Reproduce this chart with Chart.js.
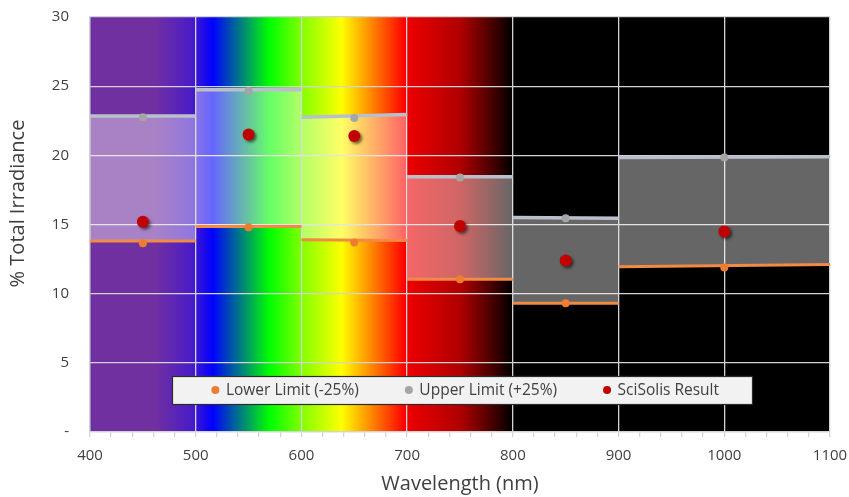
<!DOCTYPE html>
<html><head><meta charset="utf-8">
<script src="https://cdn.jsdelivr.net/npm/chart.js@4.4.1/dist/chart.umd.min.js"></script>
<style>html,body{margin:0;padding:0;background:#fff;}</style>
</head><body>
<canvas id="c" width="849" height="497"></canvas>
<script>
// ---- data ----
const binStart = [400, 500, 600, 700, 800, 900];
const binEnd = [500, 600, 700, 800, 900, 1100];
const binCenter = [450, 550, 650, 750, 850, 1000];
const lowerLimit = [13.65, 14.8, 13.7, 11.05, 9.3, 11.9];
const upperLimit = [22.75, 24.65, 22.7, 18.4, 15.45, 19.85];
const sciSolisResult = [15.2, 21.5, 21.4, 14.9, 12.4, 14.5];
const upperLineStart = [22.85, 24.75, 22.75, 18.45, 15.5, 19.85];
const upperLineEnd = [22.85, 24.75, 22.95, 18.45, 15.45, 19.9];
const lowerLineStart = [13.8, 14.85, 13.9, 11.05, 9.3, 11.95];
const lowerLineEnd = [13.8, 14.85, 13.85, 11.05, 9.3, 12.1];
const xMajorTicks = [400, 500, 600, 700, 800, 900, 1000, 1100];
const yTickValues = [0, 5, 10, 15, 20, 25, 30];
const yTickLabels = ['-', '5', '10', '15', '20', '25', '30'];
const seriesLabels = ['Lower Limit (-25%)', 'Upper Limit (+25%)', 'SciSolis Result'];
const xTitle = 'Wavelength (nm)';
const yTitle = '% Total Irradiance';

// ---- styles ----
const spectrumStops = [
  [400, '#7030A0'], [462, '#7030A0'], [496, '#4A1CC8'], [516, '#0000FF'],
  [570, '#00FF00'], [600, '#80FF00'], [638, '#FFFF00'], [698, '#FF0000'],
  [700, '#EE0000'], [750, '#B00000'], [778, '#500000'], [797, '#0A0000'],
  [800, '#000000'], [1100, '#000000']
];
const FONT = '"Open Sans", sans-serif';
const TXT = '#404040';
const GRID = '#D3D3D3';

const datasets = [];
datasets.push({label: seriesLabels[2], legend: true, shadow: true,
  data: binCenter.map((x, i) => ({x, y: sciSolisResult[i]})),
  showLine: false, pointRadius: 6, pointBackgroundColor: '#C00000', pointBorderWidth: 0, order: 0});
datasets.push({label: seriesLabels[1], legend: true,
  data: binCenter.map((x, i) => ({x, y: upperLimit[i]})),
  showLine: false, pointRadius: 4, pointBackgroundColor: '#A5A5A5', pointBorderWidth: 0, order: 1});
datasets.push({label: seriesLabels[0], legend: true,
  data: binCenter.map((x, i) => ({x, y: lowerLimit[i]})),
  showLine: false, pointRadius: 4, pointBackgroundColor: '#ED7D31', pointBorderWidth: 0, order: 1});
const lowerIdx = [];
binStart.forEach((s, i) => {
  lowerIdx.push(datasets.length);
  datasets.push({label: 'lowerSeg' + i, data: [{x: s, y: lowerLineStart[i]}, {x: binEnd[i], y: lowerLineEnd[i]}],
    showLine: true, pointRadius: 0, borderColor: '#F08A44', borderWidth: 3, fill: false, order: 2});
});
binStart.forEach((s, i) => {
  datasets.push({label: 'upperSeg' + i, data: [{x: s, y: upperLineStart[i]}, {x: binEnd[i], y: upperLineEnd[i]}],
    showLine: true, pointRadius: 0, borderColor: '#B9C0CC', borderWidth: 3.5,
    fill: {target: lowerIdx[i]}, backgroundColor: 'rgba(255,255,255,0.4)', order: 3});
});

const spectrumPlugin = {
  id: 'spectrum',
  beforeDraw(chart) {
    const {ctx, chartArea: a, scales: {x}} = chart;
    const x0 = x.getPixelForValue(400), x1 = x.getPixelForValue(1100);
    const g = ctx.createLinearGradient(x0, 0, x1, 0);
    spectrumStops.forEach(([nm, c]) => g.addColorStop((nm - 400) / 700, c));
    ctx.save();
    ctx.fillStyle = g;
    ctx.fillRect(a.left, a.top, a.right - a.left, a.bottom - a.top);
    ctx.restore();
  }
};
const shadowPlugin = {
  id: 'dotShadow',
  beforeDatasetDraw(chart, args) {
    const ds = chart.data.datasets[args.index];
    if (ds.shadow) {
      const ctx = chart.ctx; ctx.save();
      ctx.shadowColor = 'rgba(0,0,0,0.55)'; ctx.shadowOffsetX = 2; ctx.shadowOffsetY = 2; ctx.shadowBlur = 3;
    }
  },
  afterDatasetDraw(chart, args) {
    const ds = chart.data.datasets[args.index];
    if (ds.shadow) chart.ctx.restore();
  }
};
// y-axis title drawn slightly above centre, as in the original
const yTitlePlugin = {
  id: 'yTitle',
  afterDraw(chart, args, opts) {
    const {ctx, chartArea: a} = chart;
    ctx.save();
    ctx.font = '20px ' + FONT;
    ctx.fillStyle = TXT;
    ctx.textAlign = 'center';
    ctx.textBaseline = 'middle';
    ctx.translate(opts.x, (a.top + a.bottom) / 2 - opts.shift);
    ctx.rotate(-Math.PI / 2);
    ctx.fillText(opts.text, 0, 0);
    ctx.restore();
  }
};
const legendPlugin = {
  id: 'boxLegend',
  afterDraw(chart, args, opts) {
    const {ctx, chartArea: a} = chart;
    const w = a.right - a.left, h = a.bottom - a.top;
    const L = a.left + opts.left * w, R = a.left + opts.right * w;
    const T = a.top + opts.top * h, B = a.top + opts.bottom * h;
    ctx.save();
    ctx.fillStyle = '#F2F2F2';
    ctx.fillRect(L, T, R - L, B - T);
    ctx.strokeStyle = '#2b2b2b'; ctx.lineWidth = 1.2;
    ctx.strokeRect(Math.round(L) + 0.5, Math.round(T) + 0.5, Math.round(R - L), Math.round(B - T));
    ctx.font = '15.5px ' + FONT;
    ctx.textBaseline = 'middle';
    const items = seriesLabels.map(lbl => chart.data.datasets.find(d => d.label === lbl));
    const dotGap = 10.5, itemGap = 46, r = 4;
    const widths = items.map(d => r + dotGap + ctx.measureText(d.label).width);
    const total = widths.reduce((s, v) => s + v, 0) + itemGap * (items.length - 1);
    let cx = (L + R) / 2 - total / 2 + 3;
    const cy = (T + B) / 2;
    items.forEach((d, i) => {
      ctx.fillStyle = d.pointBackgroundColor;
      ctx.beginPath(); ctx.arc(cx + r, cy, r, 0, Math.PI * 2); ctx.fill();
      ctx.fillStyle = TXT;
      ctx.textAlign = 'left';
      ctx.fillText(d.label, cx + r + dotGap, cy + 0.5);
      cx += widths[i] + itemGap;
    });
    ctx.restore();
  }
};

new Chart(document.getElementById('c'), {
  type: 'scatter',
  data: {datasets},
  plugins: [spectrumPlugin, shadowPlugin, legendPlugin, yTitlePlugin],
  options: {
    responsive: false, animation: false, devicePixelRatio: 1,
    layout: {padding: {top: 17, right: 19, left: 0, bottom: 0}},
    plugins: {
      legend: {display: false}, tooltip: {enabled: false},
      boxLegend: {left: 0.111, right: 0.895, top: 0.865, bottom: 0.9325},
      yTitle: {text: yTitle, x: 18.5, shift: 21}
    },
    scales: {
      x: {
        type: 'linear', min: 400, max: 1100,
        afterFit(s) { s.height = 65; s.paddingLeft = 0; s.paddingRight = 0; },
        afterBuildTicks(s) {
          const t = [];
          for (let v = 400; v <= 1100; v += 20) t.push({value: v});
          s.ticks = t;
        },
        ticks: {autoSkip: false, maxRotation: 0, padding: 10, color: TXT, font: {family: FONT, size: 15},
          callback: v => xMajorTicks.includes(v) ? String(v) : ''},
        grid: {color: c => (c.tick && xMajorTicks.includes(c.tick.value)) ? GRID : 'rgba(0,0,0,0)',
          tickColor: GRID, tickLength: 5, lineWidth: 1.3},
        border: {color: GRID, width: 1.3},
        title: {display: true, text: xTitle, color: TXT, font: {family: FONT, size: 20},
          padding: {top: 0, bottom: 1}}
      },
      y: {
        type: 'linear', min: 0, max: 30,
        afterFit(s) { s.width = 90; s.paddingTop = 0; s.paddingBottom = 0; },
        afterBuildTicks(s) { s.ticks = yTickValues.map(v => ({value: v})); },
        ticks: {padding: 21, color: TXT, font: {family: FONT, size: 15},
          callback: v => yTickLabels[yTickValues.indexOf(v)]},
        grid: {color: GRID, lineWidth: 1.3, drawTicks: false},
        border: {color: GRID, width: 1.3},
        title: {display: false, text: yTitle}
      }
    }
  }
});
</script>
</body></html>
